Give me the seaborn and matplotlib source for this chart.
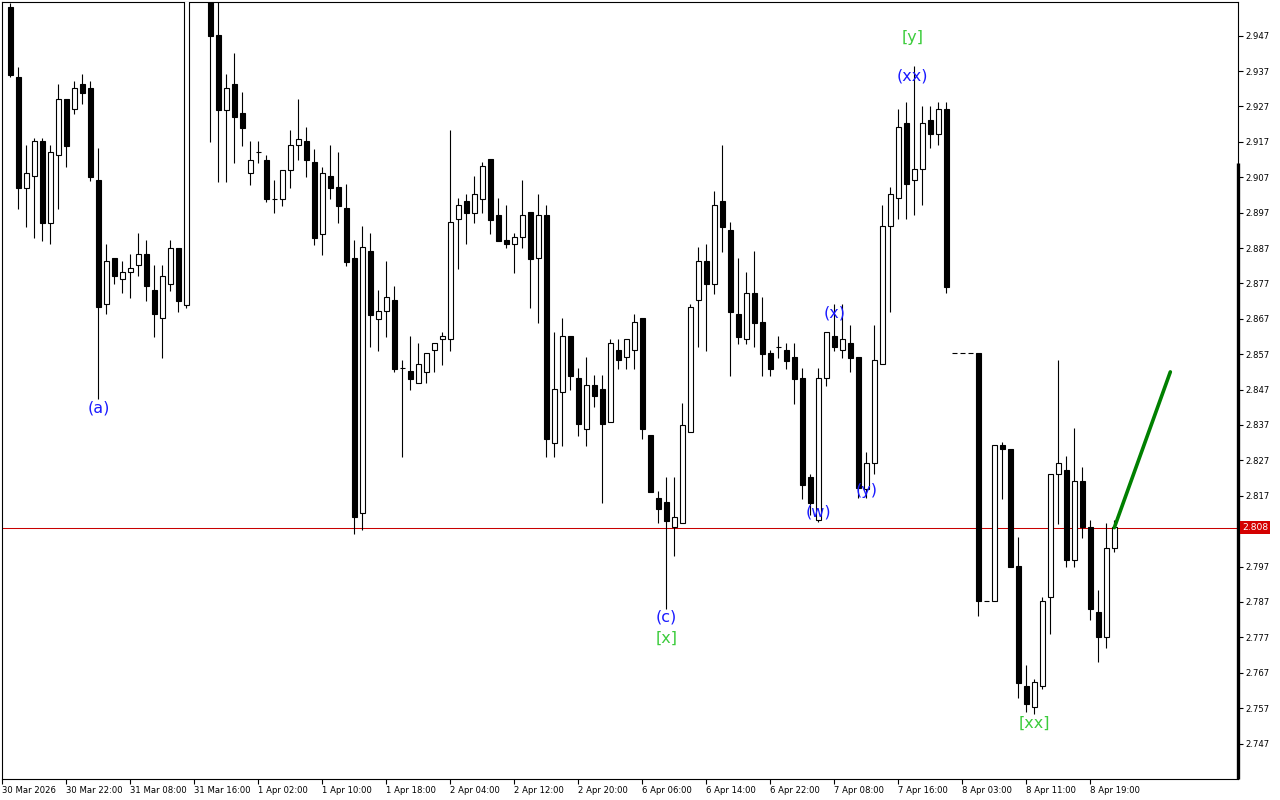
import numpy as np
import pandas as pd
import matplotlib
matplotlib.use("Agg")
import matplotlib.pyplot as plt
import matplotlib.transforms as mtransforms
import seaborn as sns

# hourly candles, bar 0 = 30 Mar 2026 00:00
opens = [2.9550, 2.9353, 2.9041, 2.9073, 2.9172, 2.8942, 2.9132, 2.9290, 2.9262, 2.9333,
         2.9321, 2.9061, 2.8711, 2.8841, 2.8782, 2.8801, 2.8821, 2.8853, 2.8751, 2.8671,
         2.8769, 2.8871, 2.8710, 2.9650, 2.9700, 2.9660, 2.9472, 2.9261, 2.9333, 2.9251,
         2.9081, 2.9141, 2.9120, 2.9009, 2.9009, 2.9091, 2.9160, 2.9173, 2.9113, 2.8910,
         2.9073, 2.9042, 2.8982, 2.8841, 2.8120, 2.8862, 2.8670, 2.8691, 2.8722, 2.8530,
         2.8522, 2.8490, 2.8521, 2.8581, 2.8612, 2.8612, 2.8951, 2.9002, 2.8970, 2.9009,
         2.9122, 2.8963, 2.8893, 2.8881, 2.8900, 2.8972, 2.8841, 2.8963, 2.8320, 2.8462,
         2.8621, 2.8502, 2.8360, 2.8482, 2.8471, 2.8379, 2.8581, 2.8561, 2.8581, 2.8672,
         2.8342, 2.8163, 2.8152, 2.8081, 2.8092, 2.8351, 2.8722, 2.8833, 2.8769, 2.9003,
         2.8921, 2.8684, 2.8612, 2.8742, 2.8660, 2.8573, 2.8591, 2.8581, 2.8561, 2.8502,
         2.8222, 2.8102, 2.8502, 2.8621, 2.8582, 2.8601, 2.8561, 2.8188, 2.8262, 2.8542,
         2.8931, 2.9011, 2.9223, 2.9062, 2.9093, 2.9231, 2.9191, 2.9262, 2.8573, 2.8573,
         2.8573, 2.8573, 2.7872, 2.7872, 2.8313, 2.8302, 2.7971, 2.7632, 2.7572, 2.7632,
         2.7883, 2.8231, 2.8242, 2.7989, 2.8212, 2.8082, 2.7842, 2.7772, 2.8022]
highs = [2.9563, 2.9381, 2.9160, 2.9180, 2.9181, 2.9160, 2.9334, 2.9290, 2.9342, 2.9362,
         2.9341, 2.9153, 2.8881, 2.8841, 2.8833, 2.8853, 2.8913, 2.8893, 2.8821, 2.8821,
         2.8892, 2.8871, 2.9680, 2.9750, 2.9740, 2.9680, 2.9600, 2.9362, 2.9421, 2.9311,
         2.9173, 2.9173, 2.9132, 2.9061, 2.9091, 2.9204, 2.9291, 2.9211, 2.9151, 2.9100,
         2.9161, 2.9141, 2.9051, 2.8893, 2.8932, 2.8912, 2.8751, 2.8833, 2.8762, 2.8553,
         2.8621, 2.8601, 2.8573, 2.8601, 2.8632, 2.9203, 2.9011, 2.9022, 2.9074, 2.9113,
         2.9122, 2.9011, 2.8992, 2.8912, 2.9062, 2.8972, 2.9023, 2.8992, 2.8633, 2.8672,
         2.8621, 2.8531, 2.8562, 2.8511, 2.8511, 2.8613, 2.8613, 2.8613, 2.8684, 2.8672,
         2.8342, 2.8183, 2.8223, 2.8223, 2.8431, 2.8712, 2.8872, 2.8881, 2.9031, 2.9161,
         2.8943, 2.8842, 2.8802, 2.8862, 2.8733, 2.8581, 2.8621, 2.8601, 2.8601, 2.8530,
         2.8231, 2.8530, 2.8632, 2.8711, 2.8711, 2.8653, 2.8561, 2.8293, 2.8653, 2.8992,
         2.9042, 2.9263, 2.9283, 2.9383, 2.9271, 2.9271, 2.9283, 2.9283, 2.8573, 2.8573,
         2.8573, 2.8573, 2.7872, 2.8313, 2.8322, 2.8302, 2.8053, 2.7692, 2.7651, 2.7883,
         2.8231, 2.8554, 2.8282, 2.8361, 2.8251, 2.8101, 2.7904, 2.8093, 2.8101]
lows = [2.9353, 2.8981, 2.8930, 2.8899, 2.8891, 2.8880, 2.8981, 2.9100, 2.9250, 2.9276,
        2.9060, 2.8443, 2.8683, 2.8769, 2.8742, 2.8730, 2.8790, 2.8721, 2.8620, 2.8560,
        2.8748, 2.8689, 2.8701, 2.9600, 2.9620, 2.9171, 2.9058, 2.9058, 2.9111, 2.9159,
        2.9048, 2.9111, 2.9000, 2.8969, 2.8988, 2.9039, 2.9118, 2.9070, 2.8878, 2.8850,
        2.9009, 2.8942, 2.8820, 2.8061, 2.8073, 2.8591, 2.8580, 2.8620, 2.8521, 2.8280,
        2.8470, 2.8490, 2.8490, 2.8521, 2.8540, 2.8580, 2.8812, 2.8880, 2.8942, 2.8970,
        2.8910, 2.8891, 2.8871, 2.8800, 2.8871, 2.8701, 2.8659, 2.8280, 2.8280, 2.8311,
        2.8470, 2.8340, 2.8311, 2.8422, 2.8150, 2.8379, 2.8529, 2.8529, 2.8529, 2.8331,
        2.8181, 2.8092, 2.7851, 2.8001, 2.8092, 2.8351, 2.8591, 2.8580, 2.8740, 2.8860,
        2.8509, 2.8600, 2.8600, 2.8591, 2.8509, 2.8509, 2.8560, 2.8529, 2.8430, 2.8162,
        2.8116, 2.8096, 2.8480, 2.8579, 2.8560, 2.8521, 2.8164, 2.8163, 2.8231, 2.8542,
        2.8690, 2.8951, 2.8951, 2.8963, 2.8991, 2.9152, 2.9160, 2.8742, 2.8573, 2.8573,
        2.8573, 2.7831, 2.7872, 2.7872, 2.8162, 2.7969, 2.7599, 2.7560, 2.7552, 2.7623,
        2.7779, 2.8091, 2.7969, 2.7969, 2.8052, 2.7820, 2.7701, 2.7741, 2.8012]
closes = [2.9360, 2.9041, 2.9081, 2.9172, 2.8942, 2.9141, 2.9290, 2.9159, 2.9321, 2.9309,
          2.9072, 2.8703, 2.8833, 2.8790, 2.8801, 2.8814, 2.8853, 2.8762, 2.8683, 2.8790,
          2.8871, 2.8720, 2.9650, 2.9700, 2.9660, 2.9470, 2.9261, 2.9321, 2.9241, 2.9210,
          2.9120, 2.9141, 2.9008, 2.9009, 2.9091, 2.9160, 2.9179, 2.9119, 2.8899, 2.9081,
          2.9041, 2.8990, 2.8831, 2.8111, 2.8872, 2.8682, 2.8691, 2.8731, 2.8529, 2.8530,
          2.8501, 2.8541, 2.8573, 2.8601, 2.8621, 2.8943, 2.8991, 2.8970, 2.9022, 2.9101,
          2.8949, 2.8891, 2.8880, 2.8900, 2.8963, 2.8840, 2.8963, 2.8331, 2.8471, 2.8621,
          2.8509, 2.8372, 2.8482, 2.8451, 2.8372, 2.8601, 2.8553, 2.8613, 2.8660, 2.8360,
          2.8181, 2.8132, 2.8100, 2.8111, 2.8371, 2.8703, 2.8833, 2.8769, 2.8991, 2.8930,
          2.8690, 2.8620, 2.8742, 2.8659, 2.8571, 2.8529, 2.8591, 2.8552, 2.8501, 2.8201,
          2.8150, 2.8502, 2.8632, 2.8591, 2.8612, 2.8560, 2.8192, 2.8262, 2.8553, 2.8931,
          2.9022, 2.9211, 2.9050, 2.9093, 2.9223, 2.9191, 2.9262, 2.8761, 2.8573, 2.8573,
          2.8573, 2.7872, 2.7872, 2.8313, 2.8301, 2.7969, 2.7642, 2.7581, 2.7643, 2.7872,
          2.8231, 2.8262, 2.7989, 2.8212, 2.8082, 2.7851, 2.7772, 2.8022, 2.8081]

time_labels = ["30 Mar 2026", "30 Mar 22:00", "31 Mar 08:00", "31 Mar 16:00", "1 Apr 02:00",
               "1 Apr 10:00", "1 Apr 18:00", "2 Apr 04:00", "2 Apr 12:00", "2 Apr 20:00",
               "6 Apr 06:00", "6 Apr 14:00", "6 Apr 22:00", "7 Apr 08:00", "7 Apr 16:00",
               "8 Apr 03:00", "8 Apr 11:00", "8 Apr 19:00"]
price_ticks = [2.747, 2.757, 2.767, 2.777, 2.787, 2.797, 2.807, 2.817, 2.827, 2.837, 2.847,
               2.857, 2.867, 2.877, 2.887, 2.897, 2.907, 2.917, 2.927, 2.937, 2.947]
last_price = 2.808

# wave labels
wave_text = ["(a)", "(c)", "[x]", "(w)", "(x)", "(y)", "(xx)", "[y]", "[xx]"]
wave_bar = [11, 82, 82, 101, 103, 107, 112.8, 112.8, 128]
wave_price = [2.8418, 2.7827, 2.7768, 2.8124, 2.8686, 2.8186, 2.9356, 2.9466, 2.7528]
wave_color = ["#1a1aff", "#1a1aff", "#3ccc3c", "#1a1aff", "#1a1aff", "#1a1aff",
              "#1a1aff", "#3ccc3c", "#3ccc3c"]

# projected move
proj_bar = [138, 145]
proj_price = [2.808, 2.852]

df = pd.DataFrame({"open": opens, "high": highs, "low": lows, "close": closes})
df["bar"] = np.arange(len(df))

sns.set_style("white")
plt.rcParams["font.family"] = ["DejaVu Sans"]

fig = plt.figure(figsize=(12.8, 8), dpi=100)
ax = fig.add_axes([2 / 1280, 21 / 800, 1236 / 1280, 777 / 800])

up = df["close"] >= df["open"]
body_lo = np.minimum(df["open"], df["close"])
body_h = (df["close"] - df["open"]).abs()

ax.vlines(df["bar"], df["low"], df["high"], color="black", lw=0.8, zorder=2)
ax.bar(df["bar"][up], body_h[up], bottom=body_lo[up], width=0.6,
       color="white", edgecolor="black", linewidth=0.8, zorder=3)
ax.bar(df["bar"][~up], body_h[~up], bottom=body_lo[~up], width=0.6,
       color="black", edgecolor="black", linewidth=0.8, zorder=3)

ax.axhline(last_price, color="#c80000", lw=0.75, zorder=1)

sns.lineplot(x=proj_bar, y=proj_price, ax=ax, color="#008000", lw=2.6, zorder=4)

for t, b, p, c in zip(wave_text, wave_bar, wave_price, wave_color):
    ax.text(b, p, t, color=c, fontsize=11.5, ha="center", va="center", zorder=5)

ax.set_xlim(-1.04, 153.46)
ax.set_ylim(2.73697, 2.95652)

ax.set_xticks([8 * j - 1.04 for j in range(len(time_labels))])
ax.set_xticklabels(time_labels)
for lbl in ax.get_xticklabels():
    lbl.set_horizontalalignment("left")
ax.yaxis.tick_right()
ax.set_yticks(price_ticks)
# the 2.807 label sits under the last-price box
ax.set_yticklabels(["" if abs(v - last_price) < 0.002 else f"{v:.3f}" for v in price_ticks])
ax.tick_params(axis="both", direction="out", length=3.5, width=0.8, labelsize=6.1,
               pad=1.5, colors="black", bottom=True, right=True)
ax.tick_params(axis="x", pad=1.5)
ax.set_xlabel("")
ax.set_ylabel("")
for s in ax.spines.values():
    s.set_color("black")
    s.set_linewidth(0.8)

ax.plot([1, 1], [0, 0.793], transform=ax.transAxes, color="black", lw=2.4,
        solid_capstyle="butt", clip_on=False, zorder=6)

trans = mtransforms.blended_transform_factory(ax.transAxes, ax.transData)
ax.text(1.0035, last_price, f"{last_price:.3f}", transform=trans, color="white",
        fontsize=6.6, ha="left", va="center", zorder=7,
        bbox=dict(boxstyle="square,pad=0.2", fc="#d40000", ec="none"))

fig.savefig("out.png", dpi=100)
